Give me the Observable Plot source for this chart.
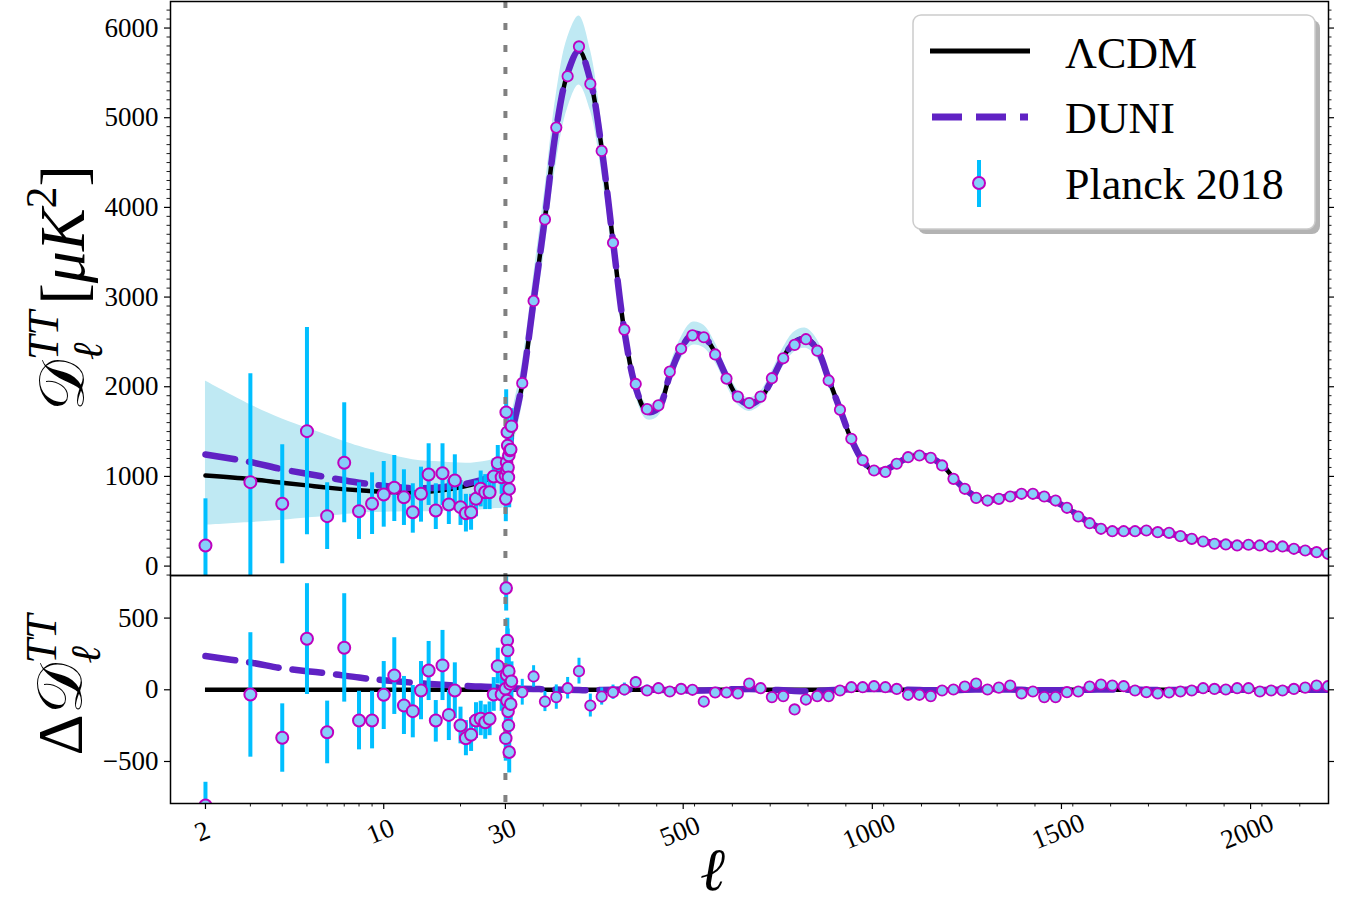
<!DOCTYPE html>
<html><head><meta charset="utf-8">
<script src="https://cdn.jsdelivr.net/npm/d3@7"></script>
<script src="https://cdn.jsdelivr.net/npm/@observablehq/plot@0.6"></script>
<style>
body{margin:0;background:#fff;}
#wrap{position:relative;width:1353px;height:905px;overflow:hidden;font-family:"Liberation Serif","DejaVu Serif",serif;}
#topP,#botP,#legend{position:absolute;left:0;}
#topP{top:0px}
#botP{top:575px}
#legend{top:0px}
svg text{font-family:"Liberation Serif","DejaVu Serif",serif;}
</style></head><body><div id="wrap"><div id="topP"></div><div id="botP"></div><svg id="legend" width="1353" height="260"></svg></div>
<script>
// ---------------- DATA ----------------
// Planck 2018 low-ell (unbinned) points, ell = 2..29
const lowEll = [2,3,4,5,6,7,8,9,10,11,12,13,14,15,16,17,18,19,20,21,22,23,24,25,26,27,28,29];
const lowD   = [230,936,695,1505,557,1152,612,695,798,873,768,601,806,1021,620,1036,687,955,657,590,601,750,862,824,824,999,1148,991];
const lowDlo = [-300,-300,26,349,185,483,297,352,434,497,453,367,490,676,408,676,464,665,453,380,400,550,660,630,630,800,950,800];
const lowDhi = [750,2144,1353,2660,929,1821,929,1040,1166,1233,1074,918,1103,1364,918,1364,962,1241,955,800,800,950,1060,1020,1020,1195,1345,1180];
const lowR   = [-807,-33,-335,356,-296,293,-214,-214,-35,100,-110,-149,-5,135,-214,170,-175,-5,-249,-338,-314,-214,-202,-226,-202,-33,165,-33];
const lowRlo = [-980,-470,-575,-33,-516,-86,-419,-412,-277,-172,-312,-335,-209,-75,-365,-75,-354,-200,-377,-460,-430,-340,-320,-345,-320,-150,40,-150];
const lowRhi = [-645,398,-98,740,-79,670,-10,-10,197,363,93,30,197,337,-75,414,-5,188,-121,-215,-195,-90,-80,-105,-85,85,290,85];

// unbinned points just above ell = 30 (squeezed on the linear part)
const clEll  = [30,31,32,33,34,35,36,37,38,39,40,42,44,46];
const clD    = [1010,750,1716,1159,1066,1493,1345,1100,990,1233,860,1290,1300,1560];
const clDerr = [260,255,250,245,240,235,230,225,220,215,210,205,200,195];
const clR    = [7,-338,709,104,-75,344,274,-151,-249,130,-435,40,-100,60];
const clRerr = [160,160,160,155,155,155,150,150,150,145,145,140,140,135];

// binned high-ell points (bin width 30)
const binEll = [74.5,104.5,134.5,164.5,194.5,224.5,254.5,284.5,314.5,344.5,374.5,404.5,434.5,464.5,494.5,524.5,554.5,584.5,614.5,644.5,674.5,704.5,734.5,764.5,794.5,824.5,854.5,884.5,914.5,944.5,974.5,1004.5,1034.5,1064.5,1094.5,1124.5,1154.5,1184.5,1214.5,1244.5,1274.5,1304.5,1334.5,1364.5,1394.5,1424.5,1454.5,1484.5,1514.5,1544.5,1574.5,1604.5,1634.5,1664.5,1694.5,1724.5,1754.5,1784.5,1814.5,1844.5,1874.5,1904.5,1934.5,1964.5,1994.5,2024.5,2054.5,2084.5,2114.5,2144.5,2174.5,2204.5];
const binD   = [2040,2957,3866,4890,5462,5795,5377,4630,3606,2637,2031,1750,1792,2168,2423,2573,2552,2360,2091,1890,1818,1890,2095,2317,2467,2530,2402,2070,1743,1420,1180,1066,1050,1141,1214,1233,1207,1122,973,862,761,731,750,776,806,806,776,731,650,553,478,416,389,389,389,397,378,371,334,304,274,249,241,230,238,230,219,219,193,174,155,137];
const binDerr= [45,45,50,55,55,55,50,45,40,35,30,28,27,27,27,27,26,25,24,22,21,20,20,20,20,20,19,18,17,16,15,15,15,15,15,15,15,14,13,12,12,12,12,12,12,12,12,12,11,11,11,11,11,11,11,11,11,11,11,11,11,11,11,12,12,12,13,13,13,14,14,15];
const binR   = [-17,93,-82,-51,11,130,-110,-47,-17,2,53,-5,11,-12,6,0,-82,-19,-19,-26,44,11,-51,-44,-137,-68,-44,-44,-5,18,18,25,18,6,-35,-35,-44,-5,2,23,44,2,15,30,-26,-12,-51,-51,-17,-12,23,37,30,25,-5,-17,-26,-19,-12,-5,11,6,2,11,11,-12,-5,-5,6,15,30,25];
const binRerr= [90,75,70,85,75,90,80,60,50,45,40,38,36,35,34,33,32,31,30,30,30,30,30,30,30,30,30,30,30,30,30,30,30,30,30,30,30,30,30,30,30,30,30,30,30,30,30,30,30,30,30,30,30,30,30,30,30,30,30,30,30,30,30,30,30,30,30,30,30,30,30,30];

// theory curves: low-ell nodes, then the bin centres
const lowModelEll = [2,3,4,5,6,8,10,13,17,22,27,30,44.5];
const lcdmLow  = [1010,970,930,900,875,845,828,820,845,905,990,1060,1420];
const duniLow  = [1245,1160,1080,1030,990,930,895,870,880,930,1008,1072,1430];
const bandLoLow= [455,485,510,535,555,590,600,605,610,620,640,665,1200];
const bandHiLow= [2065,1800,1640,1540,1460,1335,1260,1185,1160,1148,1190,1260,1640];
const duniResLow=[235,190,150,130,115,85,67,50,35,25,18,12,10];

const lcdmHigh = [2030,2950,3880,4880,5500,5750,5420,4660,3620,2620,1990,1720,1760,2130,2430,2590,2560,2380,2110,1880,1800,1870,2080,2330,2500,2540,2420,2090,1750,1410,1170,1060,1070,1140,1210,1235,1210,1130,985,860,770,735,750,785,805,800,770,720,650,565,480,420,395,390,392,393,382,365,338,305,276,255,242,236,232,226,218,205,190,174,158,142];
const duniHigh = [2038,2956,3884,4882,5500,5748,5417,4658,3620,2622,1993,1722,1760,2127,2425,2584,2555,2378,2112,1884,1805,1873,2080,2326,2492,2530,2412,2086,1750,1414,1176,1066,1074,1142,1210,1233,1207,1127,983,860,772,738,753,787,805,798,767,717,648,565,481,422,397,391,392,392,380,363,337,305,277,256,243,236,232,225,217,205,190,174,158,142];
const bandHalf = [235,288,334,380,394,384,340,276,204,141,103,88,88,102,120,128,125,110,95,82,76,80,92,104,112,112,104,88,70,54,42,36,35,37,38,38,36,33,28,24,21,20,20,21,21,21,20,18,16,14,12,10,10,10,10,10,9,9,8,7,7,6,6,6,6,6,5,5,5,4,4,4];
const duniResHigh = [8,6,4,2,0,-2,-3,-2,0,2,3,2,0,-3,-5,-6,-5,-2,2,4,5,3,0,-4,-8,-10,-8,-4,0,4,6,6,4,2,0,-2,-3,-3,-2,0,2,3,3,2,0,-2,-3,-3,-2,0,1,2,2,1,0,-1,-2,-2,-1,0,1,1,1,0,0,-1,-1,0,0,0,0,0];

// axes
const xDomainEll = [1.4585, 2206];
const xMajor = [2,10,30,500,1000,1500,2000];
const xMinor = [3,4,5,6,7,8,9,20,130,230,330,430,530,630,730,830,930,1030,1130,1230,1330,1430,1530,1630,1730,1830,1930,2030,2130];
const yTopDomain = [-105, 6296];
const yTopMajor = [0,1000,2000,3000,4000,5000,6000];
const yBotDomain = [-793, 797];
const yBotMajor = [-500,0,500];
const lcdmResidualSpan = [2, 2206];
const vline = [30];

// ---------------- STYLE ----------------
const COL = {lcdm:"#000000", duni:"#6022c4", band:"#bfe9f3", err:"#00bfff", fill:"#87cefa", edge:"#bf00bf", vline:"#808080"};
const W = 1353, ML = 170, MR = 25;
const FW = W - ML - MR;
const LOG30 = Math.log10(30), LIN = 0.3782 / 255.0;
const T = l => l <= 30 ? Math.log10(l) : LOG30 + (l - 30) * LIN;
const xOpts = {type: "linear", transform: T, domain: xDomainEll.map(T), axis: null};
const fmt = v => v < 0 ? "\u2212" + Math.abs(v) : String(v);
const FONT = '"Liberation Serif","DejaVu Serif",serif';
const ELLFONT = '"DejaVu Serif","Liberation Serif",serif';

// tables
const modelEll = lowModelEll.concat(binEll);
const lcdmAll = lcdmLow.concat(lcdmHigh);
const duniAll = duniLow.concat(duniHigh);
const bandLo = bandLoLow.concat(lcdmHigh.map((v, i) => v - bandHalf[i]));
const bandHi = bandHiLow.concat(lcdmHigh.map((v, i) => v + bandHalf[i]));
const duniRes = duniResLow.concat(duniResHigh);
const model = modelEll.map((l, i) => ({l, lcdm: lcdmAll[i], duni: duniAll[i], lo: bandLo[i], hi: bandHi[i], dres: duniRes[i]}));
const low = lowEll.map((l, i) => ({l, d: lowD[i], lo: lowDlo[i], hi: lowDhi[i], r: lowR[i], rlo: lowRlo[i], rhi: lowRhi[i]}));
const cl = clEll.map((l, i) => ({l, d: clD[i], lo: clD[i] - clDerr[i], hi: clD[i] + clDerr[i], r: clR[i], rlo: clR[i] - clRerr[i], rhi: clR[i] + clRerr[i]}));
const bins = binEll.map((l, i) => ({l, d: binD[i], lo: binD[i] - binDerr[i], hi: binD[i] + binDerr[i], r: binR[i], rlo: binR[i] - binRerr[i], rhi: binR[i] + binRerr[i]}));

const curve = "catmull-rom";
const dotStyle = (r, sw) => ({fill: COL.fill, stroke: COL.edge, r, strokeWidth: sw, clip: true});

// ---------------- TOP PANEL ----------------
const yTopMinor = d3.range(-100, 6300, 100).filter(v => v % 1000 !== 0);
const topPlot = Plot.plot({
  width: W, height: 576, marginTop: 1, marginBottom: 1, marginLeft: ML, marginRight: MR,
  style: {fontFamily: FONT, fontSize: "27px", background: "transparent", overflow: "visible"},
  x: xOpts,
  y: {domain: yTopDomain, axis: null},
  marks: [
    Plot.areaY(model, {x: "l", y1: "lo", y2: "hi", fill: COL.band, curve, clip: true}),
    Plot.line(model, {x: "l", y: "lcdm", stroke: COL.lcdm, strokeWidth: 4.5, curve, clip: true}),
    Plot.line(model, {x: "l", y: "duni", stroke: COL.duni, strokeWidth: 6.5, strokeDasharray: "30,14", curve, clip: true}),
    Plot.ruleX(low, {x: "l", y1: "lo", y2: "hi", stroke: COL.err, strokeWidth: 4, clip: true}),
    Plot.ruleX(cl, {x: "l", y1: "lo", y2: "hi", stroke: COL.err, strokeWidth: 4, clip: true}),
    Plot.ruleX(bins, {x: "l", y1: "lo", y2: "hi", stroke: COL.err, strokeWidth: 3, clip: true}),
    Plot.ruleX(vline, {x: d => d, stroke: COL.vline, strokeWidth: 4, strokeDasharray: "7,15"}),
    Plot.dot(low, {x: "l", y: "d", ...dotStyle(6, 2)}),
    Plot.dot(cl, {x: "l", y: "d", ...dotStyle(5.8, 2)}),
    Plot.dot(bins, {x: "l", y: "d", ...dotStyle(5.2, 1.8)}),
    Plot.frame({stroke: "#000", strokeWidth: 1.5}),
    Plot.tickY(yTopMajor, {y: d => d, insetLeft: -6, insetRight: FW, stroke: "#000", strokeWidth: 1.2}),
    Plot.tickY(yTopMinor, {y: d => d, insetLeft: -3.5, insetRight: FW, stroke: "#000", strokeWidth: 0.9}),
    Plot.tickY(yTopMajor, {y: d => d, insetLeft: FW, insetRight: -6, stroke: "#000", strokeWidth: 1.2}),
    Plot.tickY(yTopMinor, {y: d => d, insetLeft: FW, insetRight: -3.5, stroke: "#000", strokeWidth: 0.9}),
    Plot.text(yTopMajor, {y: d => d, text: fmt, frameAnchor: "left", dx: -12, textAnchor: "end", fontSize: 27, fontFamily: FONT})
  ]
});
document.getElementById("topP").appendChild(topPlot);

// ---------------- BOTTOM PANEL ----------------
const botPlot = Plot.plot({
  width: W, height: 330, marginTop: 0, marginBottom: 102, marginLeft: ML, marginRight: MR,
  style: {fontFamily: FONT, fontSize: "27px", background: "transparent", overflow: "visible"},
  x: xOpts,
  y: {domain: yBotDomain, axis: null},
  marks: [
    Plot.ruleY([0], {x1: lcdmResidualSpan[0], x2: lcdmResidualSpan[1], stroke: COL.lcdm, strokeWidth: 4.5, clip: true}),
    Plot.line(model, {x: "l", y: "dres", stroke: COL.duni, strokeWidth: 6.5, strokeDasharray: "30,14", curve, clip: true}),
    Plot.ruleX(low, {x: "l", y1: "rlo", y2: "rhi", stroke: COL.err, strokeWidth: 4, clip: true}),
    Plot.ruleX(cl, {x: "l", y1: "rlo", y2: "rhi", stroke: COL.err, strokeWidth: 4, clip: true}),
    Plot.ruleX(bins, {x: "l", y1: "rlo", y2: "rhi", stroke: COL.err, strokeWidth: 3, clip: true}),
    Plot.ruleX(vline, {x: d => d, stroke: COL.vline, strokeWidth: 4, strokeDasharray: "7,15"}),
    Plot.dot(low, {x: "l", y: "r", ...dotStyle(6, 2)}),
    Plot.dot(cl, {x: "l", y: "r", ...dotStyle(5.8, 2)}),
    Plot.dot(bins, {x: "l", y: "r", ...dotStyle(5.2, 1.8)}),
    Plot.frame({stroke: "#000", strokeWidth: 1.5}),
    Plot.tickY(yBotMajor, {y: d => d, insetLeft: -6, insetRight: FW, stroke: "#000", strokeWidth: 1.2}),
    Plot.tickY(yBotMajor, {y: d => d, insetLeft: FW, insetRight: -6, stroke: "#000", strokeWidth: 1.2}),
    Plot.text(yBotMajor, {y: d => d, text: fmt, frameAnchor: "left", dx: -12, textAnchor: "end", fontSize: 27, fontFamily: FONT}),
    Plot.tickX(xMajor, {x: d => d, insetTop: 228, insetBottom: -6, stroke: "#000", strokeWidth: 1.2}),
    Plot.tickX(xMinor, {x: d => d, insetTop: 228, insetBottom: -3.5, stroke: "#000", strokeWidth: 0.9}),
    Plot.text(xMajor, {x: d => d, text: d => String(d), frameAnchor: "bottom", dy: 36, rotate: -22, fontSize: 27, fontFamily: FONT}),
    Plot.text(["\u2113"], {text: d => d, frameAnchor: "bottom", dx: -37, dy: 86, fontSize: 60, fontStyle: "italic", fontWeight: "normal", fontFamily: ELLFONT})
  ]
});
document.getElementById("botP").appendChild(botPlot);

// ---------------- Y AXIS TITLES (rich text) ----------------
function yTitle(svgNode, x, y, prefix) {
  const t = d3.select(svgNode).append("text")
    .attr("transform", `translate(${x},${y}) rotate(-90)`)
    .attr("text-anchor", "middle")
    .attr("font-family", FONT)
    .attr("font-size", 64).attr("fill", "#000");
  t.append("tspan").text(prefix);
  t.append("tspan").attr("font-size", 44).attr("font-style", "italic").attr("dy", -26).text("TT");
  t.append("tspan").attr("font-size", 42).attr("font-style", "italic").attr("font-family", ELLFONT).attr("dx", -49).attr("dy", 44).text("\u2113");
  return t;
}
const tt = yTitle(topPlot, 84, 288, "\uD835\uDC9F");
tt.append("tspan").attr("dx", 38).attr("dy", -18).text("[");
tt.append("tspan").attr("font-style", "italic").text("\u03BCK");
tt.append("tspan").attr("font-size", 44).attr("dy", -28).text("2");
tt.append("tspan").attr("dy", 28).text("]");
yTitle(botPlot, 82, 110, "\u0394\uD835\uDC9F");

// ---------------- LEGEND ----------------
const lg = d3.select("#legend");
lg.append("rect").attr("x", 918).attr("y", 20).attr("width", 402).attr("height", 214).attr("rx", 8).attr("fill", "#b3b3b3");
lg.append("rect").attr("x", 913).attr("y", 15).attr("width", 402).attr("height", 214).attr("rx", 8).attr("fill", "#fff").attr("stroke", "#cccccc").attr("stroke-width", 1.5);
lg.append("line").attr("x1", 930).attr("x2", 1030).attr("y1", 51).attr("y2", 51).attr("stroke", COL.lcdm).attr("stroke-width", 5);
lg.append("line").attr("x1", 932).attr("x2", 1028).attr("y1", 117).attr("y2", 117).attr("stroke", COL.duni).attr("stroke-width", 7).attr("stroke-dasharray", "30,14");
lg.append("line").attr("x1", 979).attr("x2", 979).attr("y1", 160).attr("y2", 207).attr("stroke", COL.err).attr("stroke-width", 4);
lg.append("circle").attr("cx", 979).attr("cy", 183).attr("r", 6).attr("fill", COL.fill).attr("stroke", COL.edge).attr("stroke-width", 2);
const legLabels = ["\u039BCDM", "DUNI", "Planck 2018"];
const legY = [68, 133, 199];
legLabels.forEach((s, i) => lg.append("text").attr("x", 1065).attr("y", legY[i]).attr("font-size", 44)
  .attr("font-family", FONT).attr("fill", "#000").text(s));
</script>
</body></html>
